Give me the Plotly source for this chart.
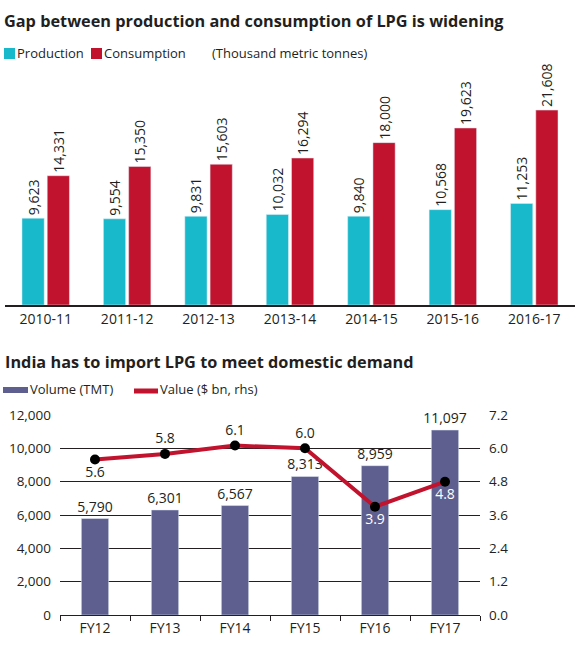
import plotly.graph_objects as go

# top chart: production vs consumption (thousand metric tonnes)
years = ["2010-11", "2011-12", "2012-13", "2013-14", "2014-15", "2015-16", "2016-17"]
production = [9623, 9554, 9831, 10032, 9840, 10568, 11253]
consumption = [14331, 15350, 15603, 16294, 18000, 19623, 21608]

# bottom chart: imports
fys = ["FY12", "FY13", "FY14", "FY15", "FY16", "FY17"]
import_volume = [5790, 6301, 6567, 8313, 8959, 11097]
import_value = [5.6, 5.8, 6.1, 6.0, 3.9, 4.8]

W, H = 586, 653
fsize = 14
font = "Open Sans"
dark = "#231f20"
cyan = "#17b9ca"
red = "#c1132d"
purple = "#5e5f8f"

def px_x(p):
	return p / W

def px_y(p):
	return 1 - p / H

fig = go.Figure()

fig.add_trace(go.Bar(
	name = "Production", x = years, y = production,
	marker_color = cyan, 
	text = ["{:,}".format(v) for v in production], 
	textposition = "outside", textangle = -90, 
	textfont = dict(color=dark, size=fsize), 
	constraintext = "none", cliponaxis = False, 
	xaxis = "x", yaxis = "y", 
))
fig.add_trace(go.Bar(
	name = "Consumption", x = years, y = consumption,
	marker_color = red, 
	text = ["{:,}".format(v) for v in consumption], 
	textposition = "outside", textangle = -90, 
	textfont = dict(color=dark, size=fsize), 
	constraintext = "none", cliponaxis = False, 
	xaxis = "x", yaxis = "y", 
))

fig.add_trace(go.Bar(
	name = "Volume (TMT)", x = fys, y = import_volume, 
	marker_color = purple, width = 0.39, 
	text = ["{:,}".format(v) for v in import_volume], 
	textposition = "outside", 
	textfont = dict(color=dark, size=fsize), 
	constraintext = "none", cliponaxis = False, 
	xaxis = "x2", yaxis = "y2", 
))
fig.add_trace(go.Scatter(
	name = "Value ($ bn, rhs)", x = fys, y = import_value, 
	mode = "lines+markers+text", 
	line = dict(color=red, width=4), 
	marker = dict(color="black", size=10), 
	text = ["{:.1f}".format(v) for v in import_value], 
	textposition = ["bottom center", "top center", "top center", "top center", "bottom center", "bottom center"], 
	textfont = dict(color=[dark, dark, dark, dark, "white", "white"], size=fsize), 
	cliponaxis = False, 
	xaxis = "x2", yaxis = "y3", 
))

#hand-made legends (swatches + labels), placed like the original
legend_shapes = [
	dict(type="rect", x0=px_x(4), x1=px_x(15), y0=px_y(48), y1=px_y(59), fillcolor=cyan, line_width=0), 
	dict(type="rect", x0=px_x(91), x1=px_x(102), y0=px_y(48), y1=px_y(59), fillcolor=red, line_width=0), 
	dict(type="rect", x0=px_x(3), x1=px_x(28), y0=px_y(387), y1=px_y(393), fillcolor=purple, line_width=0), 
	dict(type="line", x0=px_x(134), x1=px_x(158), y0=px_y(391), y1=px_y(391), line=dict(color=red, width=5)), 
]
for s in legend_shapes:
	s.update(xref="paper", yref="paper")

def note(text, x, y, size=13):
	return dict(text=text, xref="paper", yref="paper", x=px_x(x), y=px_y(y), 
		xanchor="left", yanchor="middle", showarrow=False, font=dict(size=size, color=dark))

annotations = [
	note("<b>Gap between production and consumption of LPG is widening</b>", 2, 21, 16.3), 
	note("Production", 15, 53), 
	note("Consumption", 102, 53), 
	note("(Thousand metric tonnes)", 210, 53), 
	note("<b>India has to import LPG to meet domestic demand</b>", 3, 362, 16.3), 
	note("Volume (TMT)", 28, 389), 
	note("Value ($ bn, rhs)", 158, 389), 
]

layout = dict(
	width = W, height = H, 
	margin = dict(l=0, r=0, t=0, b=0, autoexpand=False), 
	paper_bgcolor = "white", plot_bgcolor = "white", 
	font = dict(family=font, color=dark, size=fsize), 
	barmode = "group", bargap = 0.38, bargroupgap = 0.12, 
	showlegend = False, 
	xaxis = dict(
		type = "category", automargin = False, 
		domain = [px_x(5), px_x(575)], anchor = "y", 
		showline = True, linecolor = dark, linewidth = 1.5, 
		ticks = "", tickfont_size = fsize, showgrid = False, 
	), 
	yaxis = dict(
		domain = [px_y(305), px_y(84)], range = [0, 24500], automargin = False, 
		anchor = "x", visible = False, showgrid = False, 
	), 
	xaxis2 = dict(
		type = "category", automargin = False, 
		domain = [px_x(60), px_x(480)], anchor = "y2", 
		showline = True, linecolor = dark, linewidth = 1, 
		ticks = "outside", tickson = "boundaries", ticklen = 5, tickcolor = dark, 
		tickfont_size = fsize, showgrid = False, 
	), 
	yaxis2 = dict(
		domain = [px_y(615), px_y(415)], range = [0, 12000], dtick = 2000, automargin = False, 
		anchor = "x2", tickformat = ",", showgrid = True, gridcolor = dark, gridwidth = 1, 
		zeroline = False, ticks = "", tickfont_size = 13.5, ticklabelstandoff = 8, 
	), 
	yaxis3 = dict(
		overlaying = "y2", side = "right", anchor = "x2", automargin = False, 
		range = [0, 7.2], dtick = 1.2, tickformat = ".1f", 
		showgrid = False, zeroline = False, ticks = "", tickfont_size = 13.5, ticklabelstandoff = 8, 
	), 
	shapes = legend_shapes, 
	annotations = annotations, 
)
fig.update_layout(layout)

#the page's default body margin would push the figure 8px down/right
fig.write_html("out.html", config={"displayModeBar": False}, 
	post_script="document.body.style.margin='0';")
